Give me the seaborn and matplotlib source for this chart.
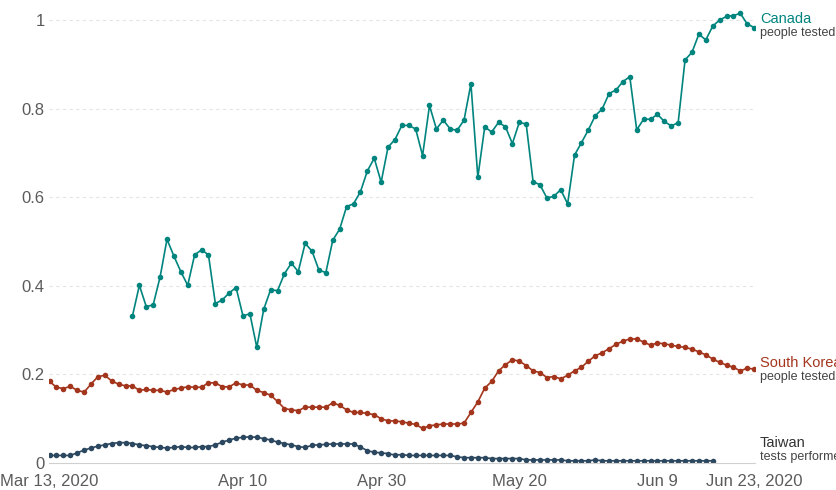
import pandas as pd
import seaborn as sns
import matplotlib.pyplot as plt

# Data (share of tests, daily, Mar 13 - Jun 23 2020)
start = pd.Timestamp('2020-03-13')

canada = [0.332, 0.401, 0.353, 0.357, 0.420, 0.505, 0.467, 0.432, 0.401, 0.470,
          0.481, 0.470, 0.360, 0.368, 0.384, 0.396, 0.332, 0.337, 0.261, 0.347,
          0.391, 0.389, 0.427, 0.451, 0.432, 0.496, 0.478, 0.435, 0.430, 0.503,
          0.528, 0.579, 0.585, 0.612, 0.659, 0.688, 0.634, 0.713, 0.730, 0.762,
          0.762, 0.754, 0.694, 0.807, 0.754, 0.774, 0.754, 0.751, 0.774, 0.856,
          0.645, 0.759, 0.747, 0.769, 0.759, 0.721, 0.769, 0.765, 0.635, 0.628,
          0.598, 0.602, 0.617, 0.585, 0.695, 0.723, 0.752, 0.784, 0.799, 0.834,
          0.842, 0.861, 0.872, 0.752, 0.776, 0.776, 0.787, 0.771, 0.761, 0.768,
          0.910, 0.927, 0.968, 0.955, 0.986, 1.000, 1.008, 1.010, 1.015, 0.991,
          0.983]
canada_offset = 12  # first Canada value is Mar 25

south_korea = [0.184, 0.171, 0.168, 0.173, 0.164, 0.160, 0.178, 0.195, 0.198, 0.185,
               0.178, 0.174, 0.174, 0.164, 0.166, 0.164, 0.164, 0.160, 0.166, 0.169,
               0.172, 0.171, 0.171, 0.181, 0.181, 0.172, 0.172, 0.181, 0.176, 0.176,
               0.164, 0.159, 0.153, 0.139, 0.123, 0.120, 0.118, 0.126, 0.126, 0.126,
               0.126, 0.136, 0.130, 0.120, 0.114, 0.114, 0.112, 0.109, 0.100, 0.095,
               0.095, 0.093, 0.090, 0.087, 0.078, 0.084, 0.086, 0.088, 0.088, 0.088,
               0.090, 0.114, 0.138, 0.169, 0.184, 0.208, 0.222, 0.233, 0.230, 0.220,
               0.208, 0.204, 0.193, 0.195, 0.190, 0.198, 0.208, 0.216, 0.230, 0.242,
               0.249, 0.258, 0.268, 0.275, 0.280, 0.280, 0.273, 0.266, 0.271, 0.269,
               0.266, 0.263, 0.261, 0.257, 0.251, 0.244, 0.235, 0.227, 0.221, 0.216,
               0.208, 0.214, 0.212]

taiwan = [0.017, 0.017, 0.017, 0.017, 0.023, 0.029, 0.034, 0.038, 0.041, 0.044,
          0.046, 0.046, 0.044, 0.041, 0.039, 0.037, 0.035, 0.034, 0.035, 0.037,
          0.035, 0.035, 0.037, 0.037, 0.041, 0.047, 0.052, 0.056, 0.058, 0.059,
          0.058, 0.055, 0.052, 0.047, 0.044, 0.041, 0.037, 0.035, 0.040, 0.041,
          0.042, 0.043, 0.043, 0.043, 0.043, 0.036, 0.028, 0.024, 0.023, 0.021,
          0.018, 0.019, 0.017, 0.017, 0.017, 0.017, 0.017, 0.017, 0.017, 0.014,
          0.012, 0.012, 0.012, 0.012, 0.010, 0.010, 0.010, 0.010, 0.010, 0.007,
          0.007, 0.007, 0.007, 0.007, 0.007, 0.005, 0.005, 0.005, 0.005, 0.007,
          0.005, 0.005, 0.005, 0.005, 0.005, 0.005, 0.005, 0.005, 0.005, 0.005,
          0.005, 0.005, 0.005, 0.005, 0.005, 0.005, 0.005]

tick_dates = ['2020-03-13', '2020-04-10', '2020-04-30', '2020-05-20', '2020-06-09', '2020-06-23']
tick_labels = ['Mar 13, 2020', 'Apr 10', 'Apr 30', 'May 20', 'Jun 9', 'Jun 23, 2020']
y_ticks = [0, 0.2, 0.4, 0.6, 0.8, 1.0]
y_labels = ['0', '0.2', '0.4', '0.6', '0.8', '1']

colors = {'Canada': '#00847e', 'South Korea': '#a3351c', 'Taiwan': '#2b4860'}

# Build long table
frames = []
frames.append(pd.DataFrame({'date': pd.date_range(start + pd.Timedelta(days=canada_offset), periods=len(canada)),
                            'value': canada, 'country': 'Canada'}))
frames.append(pd.DataFrame({'date': pd.date_range(start, periods=len(south_korea)),
                            'value': south_korea, 'country': 'South Korea'}))
frames.append(pd.DataFrame({'date': pd.date_range(start, periods=len(taiwan)),
                            'value': taiwan, 'country': 'Taiwan'}))
df = pd.concat(frames, ignore_index=True)

sns.set_style('white')
plt.rcParams['font.family'] = ['Liberation Sans', 'DejaVu Sans']

fig = plt.figure(figsize=(8.36, 4.9), dpi=100)
ax = fig.add_axes([49 / 836, 27 / 490, (755 - 49) / 836, (463 - 10) / 490])

for name in ['Taiwan', 'South Korea', 'Canada']:
    sns.lineplot(data=df[df['country'] == name], x='date', y='value', color=colors[name],
                 marker='o', markersize=4, markeredgewidth=0, linewidth=1.2, ax=ax, legend=False)

end = pd.Timestamp('2020-06-23')
ax.set_xlim(start - pd.Timedelta(hours=2), end + pd.Timedelta(hours=3))
ax.set_ylim(0, (463 - 10) / 443)

ax.set_xticks(pd.to_datetime(tick_dates))
ax.set_xticklabels(tick_labels)
ax.set_yticks(y_ticks)
ax.set_yticklabels(y_labels)
ax.set_xlabel('')
ax.set_ylabel('')

ax.tick_params(axis='x', length=6, width=0.8, color='#d0d0d0', labelsize=12, labelcolor='#5b5b5b', pad=2)
ax.tick_params(axis='y', length=0, labelsize=12, labelcolor='#5b5b5b', pad=3)

for y in y_ticks[1:]:
    ax.axhline(y, color='#e4e4e4', linewidth=0.8, linestyle=(0, (3, 3)), zorder=0)

for side in ['top', 'right', 'left']:
    ax.spines[side].set_visible(False)
ax.spines['bottom'].set_color('#d0d0d0')
ax.spines['bottom'].set_linewidth(0.8)

# Right-hand labels (the last one runs off the edge, as in the original)
labels = [('Canada', 'people tested', (463 - 19) / 443),
          ('South Korea', 'people tested', (463 - 363) / 443),
          ('Taiwan', 'tests performed', (463 - 443) / 443)]
for name, sub, yv in labels:
    ax.annotate(name, xy=(1, yv), xycoords=('axes fraction', 'data'), xytext=(5, 0),
                textcoords='offset pixels', va='center', ha='left', fontsize=10.5,
                color=colors[name] if name != 'Taiwan' else '#333333', annotation_clip=False)
    ax.annotate(sub, xy=(1, yv), xycoords=('axes fraction', 'data'), xytext=(5, -14),
                textcoords='offset pixels', va='center', ha='left', fontsize=9,
                color='#444444', annotation_clip=False)

fig.savefig('out.png', dpi=100)
